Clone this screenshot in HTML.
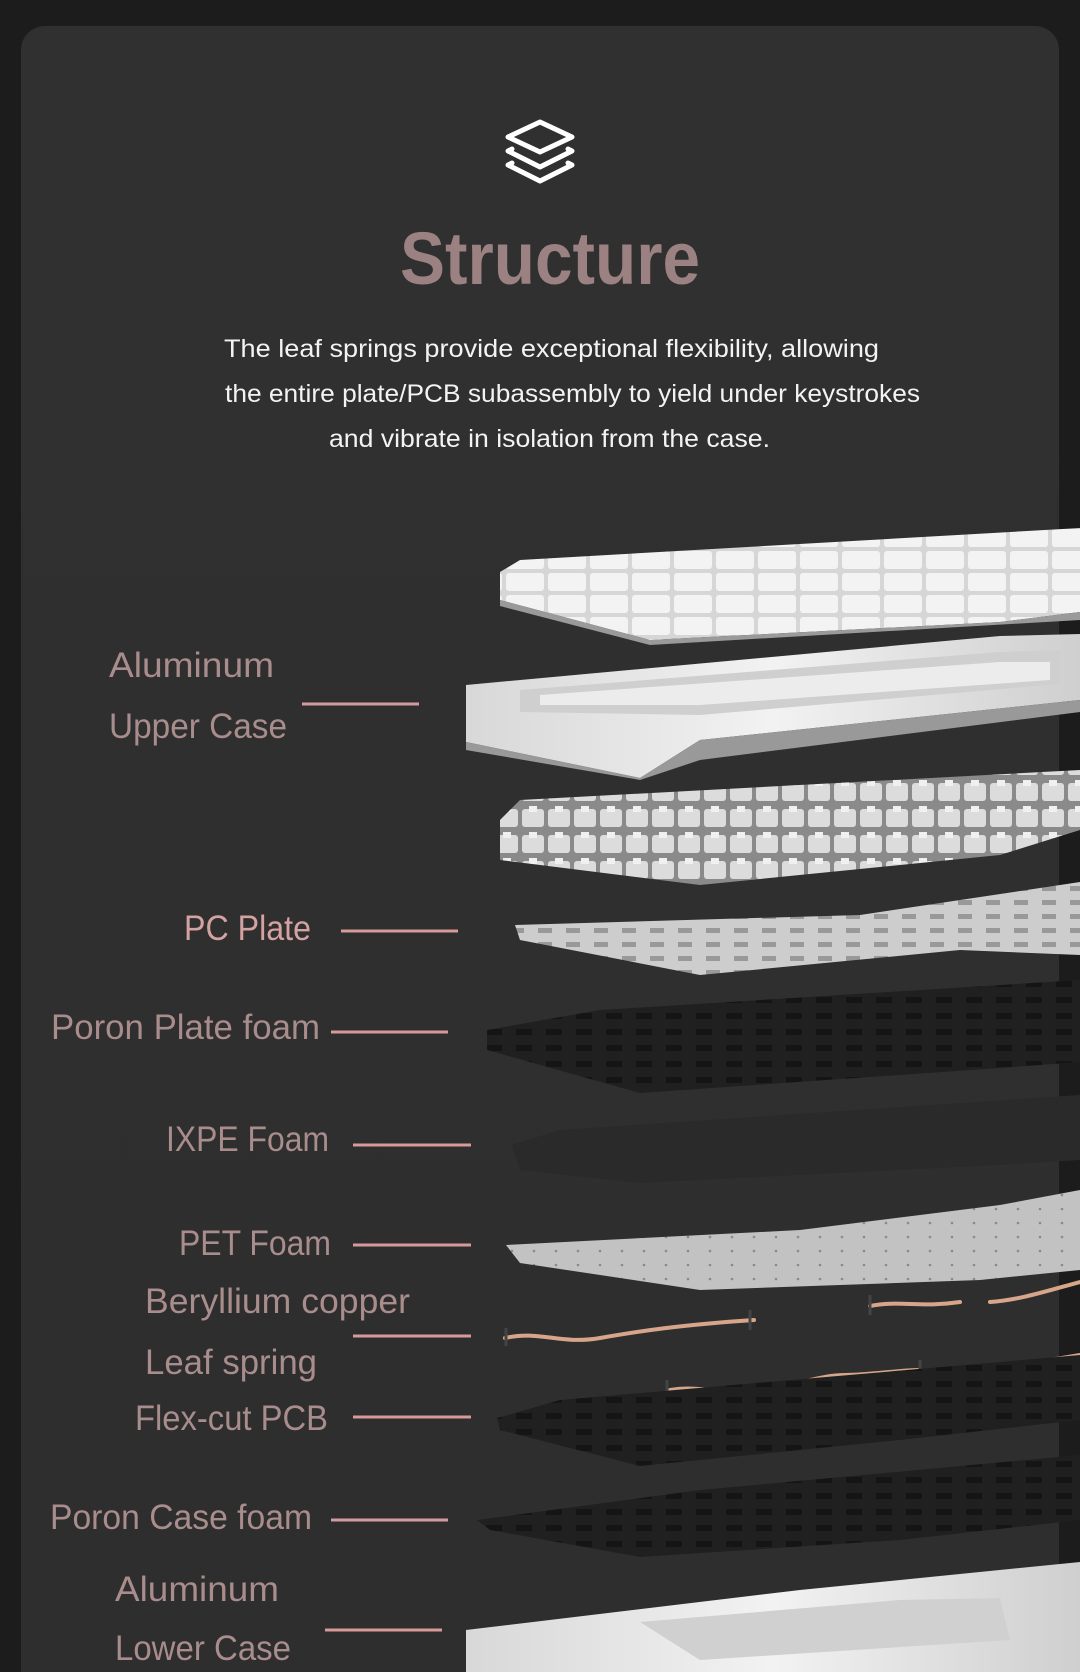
<!DOCTYPE html>
<html><head><meta charset="utf-8"><style>
html,body{margin:0;padding:0;background:#1c1c1c;}
svg{display:block}
text{font-family:"Liberation Sans",sans-serif;}
</style></head><body>
<svg width="1080" height="1672" viewBox="0 0 1080 1672" xmlns="http://www.w3.org/2000/svg">
<defs>
<linearGradient id="card" x1="0" y1="0" x2="0" y2="1"><stop offset="0" stop-color="#303030"/><stop offset="1" stop-color="#2e2e2e"/></linearGradient>
<linearGradient id="silver" x1="0" y1="0" x2="1" y2="0"><stop offset="0" stop-color="#d8d8d8"/><stop offset="0.5" stop-color="#f2f2f2"/><stop offset="1" stop-color="#cfcfcf"/></linearGradient>
<pattern id="holesL" width="28" height="14" patternUnits="userSpaceOnUse"><rect width="28" height="14" fill="#cdcdcd"/><rect x="6" y="4" width="14" height="5" fill="#999"/></pattern>
<pattern id="holesB" width="30" height="16" patternUnits="userSpaceOnUse"><rect width="30" height="16" fill="#202020"/><rect x="6" y="5" width="16" height="6" fill="#151515"/></pattern>
<pattern id="dots" width="22" height="14" patternUnits="userSpaceOnUse"><rect width="22" height="14" fill="#c2c2c2"/><circle cx="6" cy="5" r="1.3" fill="#8a8a8a"/></pattern>
<pattern id="sw" width="26" height="26" patternUnits="userSpaceOnUse"><rect width="26" height="26" fill="#8a8a8a"/><rect x="2" y="3" width="22" height="18" rx="3" fill="#dcdcdc"/><rect x="9" y="0" width="8" height="6" fill="#f0f0f0"/></pattern>
<pattern id="kc" width="42" height="22" patternUnits="userSpaceOnUse"><rect width="42" height="22" fill="#d6d6d6"/><rect x="2" y="1" width="38" height="18" rx="3" fill="#f3f3f3"/></pattern>
</defs>
<rect width="1080" height="1672" fill="#1c1c1c"/>
<rect x="21" y="26" width="1038" height="1700" rx="24" fill="url(#card)"/>

<!-- icon -->
<g fill="none" stroke="#fff" stroke-width="5" stroke-linejoin="round" stroke-linecap="round" transform="translate(540,0)">
<path d="M-32,137 L0,122 L32,137 L0,152 Z"/>
<path d="M-28,149 L-32,151 L0,167 L32,151 L28,149"/>
<path d="M-28,163 L-32,165 L0,181 L32,165 L28,163"/>
</g>

<text x="550" y="284" text-anchor="middle" font-size="74" font-weight="bold" fill="#9b8181" textLength="300" lengthAdjust="spacingAndGlyphs">Structure</text>
<g fill="#f3f3f3" font-size="25">
<text x="224" y="357" textLength="655" lengthAdjust="spacingAndGlyphs">The leaf springs provide exceptional flexibility, allowing</text>
<text x="225" y="402" textLength="695" lengthAdjust="spacingAndGlyphs">the entire plate/PCB subassembly to yield under keystrokes</text>
<text x="329" y="447" textLength="441" lengthAdjust="spacingAndGlyphs">and vibrate in isolation from the case.</text>
</g>

<!-- keycaps -->
<polygon points="500,572 520,560 1080,528 1080,612 1000,622 650,640 500,600" fill="url(#kc)"/>
<polygon points="500,600 650,640 1000,622 1080,612 1080,620 650,645 500,606" fill="#9a9a9a"/>
<!-- upper case -->
<polygon points="466,685 1000,636 1080,634 1080,700 700,740 640,778 466,742" fill="url(#silver)"/>
<polygon points="520,690 1000,652 1060,650 1060,684 700,715 520,712" fill="#cfcfcf"/>
<polygon points="540,695 1000,662 1050,662 1050,680 700,705 540,705" fill="#ececec"/>
<polygon points="466,742 640,778 700,740 1080,700 1080,712 700,760 640,780 466,750" fill="#999"/>
<!-- switches -->
<polygon points="500,820 520,800 1080,770 1080,830 1000,855 700,885 500,860" fill="url(#sw)"/>
<!-- PC plate -->
<polygon points="515,925 860,915 1080,882 1080,955 960,950 700,975 520,940" fill="url(#holesL)"/>
<!-- poron plate foam -->
<polygon points="487,1030 600,1010 1080,980 1080,1062 1000,1068 640,1093 487,1050" fill="url(#holesB)"/>
<!-- IXPE -->
<polygon points="512,1145 560,1130 1080,1095 1080,1160 1000,1165 640,1183 520,1170" fill="#2a2a2a"/>
<!-- PET -->
<polygon points="506,1245 800,1230 1000,1205 1080,1190 1080,1270 980,1280 700,1290 520,1263" fill="url(#dots)"/>
<!-- springs -->
<g fill="none" stroke="#d7a68a" stroke-width="4" stroke-linecap="round">
<path d="M505,1338 C540,1330 560,1345 600,1338 S680,1325 754,1320"/>
<path d="M870,1306 C900,1300 920,1308 960,1302"/>
<path d="M990,1302 C1020,1300 1050,1290 1080,1282"/>
<path d="M670,1390 C700,1385 720,1395 760,1390 S820,1375 845,1375 S900,1370 920,1370"/>
<path d="M1050,1360 L1080,1355"/>
</g>
<g stroke="#444" stroke-width="3"><line x1="506" y1="1328" x2="506" y2="1346"/><line x1="750" y1="1310" x2="750" y2="1330"/><line x1="870" y1="1295" x2="870" y2="1315"/><line x1="667" y1="1380" x2="667" y2="1398"/><line x1="920" y1="1360" x2="920" y2="1380"/></g>
<!-- PCB -->
<polygon points="497,1418 560,1400 1080,1355 1080,1420 900,1440 640,1466 500,1430" fill="url(#holesB)"/>
<!-- case foam -->
<polygon points="477,1520 700,1490 1080,1455 1080,1520 900,1540 640,1557 490,1530" fill="url(#holesB)"/>
<!-- lower case -->
<polygon points="466,1630 800,1590 1080,1562 1080,1672 466,1672" fill="url(#silver)"/>
<polygon points="640,1622 900,1600 1000,1598 1010,1640 700,1660" fill="#d0d0d0"/>

<!-- labels -->
<g font-size="35" fill="#a98c8c">
<text x="109" y="677" textLength="165" lengthAdjust="spacingAndGlyphs">Aluminum</text>
<text x="109" y="738" textLength="178" lengthAdjust="spacingAndGlyphs">Upper Case</text>
<text x="184" y="940" textLength="127" lengthAdjust="spacingAndGlyphs" fill="#d4a2a2">PC Plate</text>
<text x="51" y="1039" textLength="269" lengthAdjust="spacingAndGlyphs">Poron Plate foam</text>
<text x="166" y="1151" textLength="163" lengthAdjust="spacingAndGlyphs">IXPE Foam</text>
<text x="179" y="1255" textLength="152" lengthAdjust="spacingAndGlyphs">PET Foam</text>
<text x="145" y="1313" textLength="265" lengthAdjust="spacingAndGlyphs">Beryllium copper</text>
<text x="145" y="1374" textLength="172" lengthAdjust="spacingAndGlyphs">Leaf spring</text>
<text x="135" y="1430" textLength="193" lengthAdjust="spacingAndGlyphs">Flex-cut PCB</text>
<text x="50" y="1529" textLength="262" lengthAdjust="spacingAndGlyphs">Poron Case foam</text>
<text x="115" y="1601" textLength="164" lengthAdjust="spacingAndGlyphs">Aluminum</text>
<text x="115" y="1660" textLength="176" lengthAdjust="spacingAndGlyphs">Lower Case</text>
</g>
<g stroke="#d79a9a" stroke-width="3">
<line x1="302" y1="704" x2="419" y2="704"/>
<line x1="341" y1="931" x2="458" y2="931"/>
<line x1="331" y1="1032" x2="448" y2="1032"/>
<line x1="353" y1="1145" x2="471" y2="1145"/>
<line x1="353" y1="1245" x2="471" y2="1245"/>
<line x1="353" y1="1336" x2="471" y2="1336"/>
<line x1="353" y1="1417" x2="471" y2="1417"/>
<line x1="331" y1="1520" x2="448" y2="1520"/>
<line x1="325" y1="1630" x2="442" y2="1630"/>
</g>
</svg>
</body></html>
